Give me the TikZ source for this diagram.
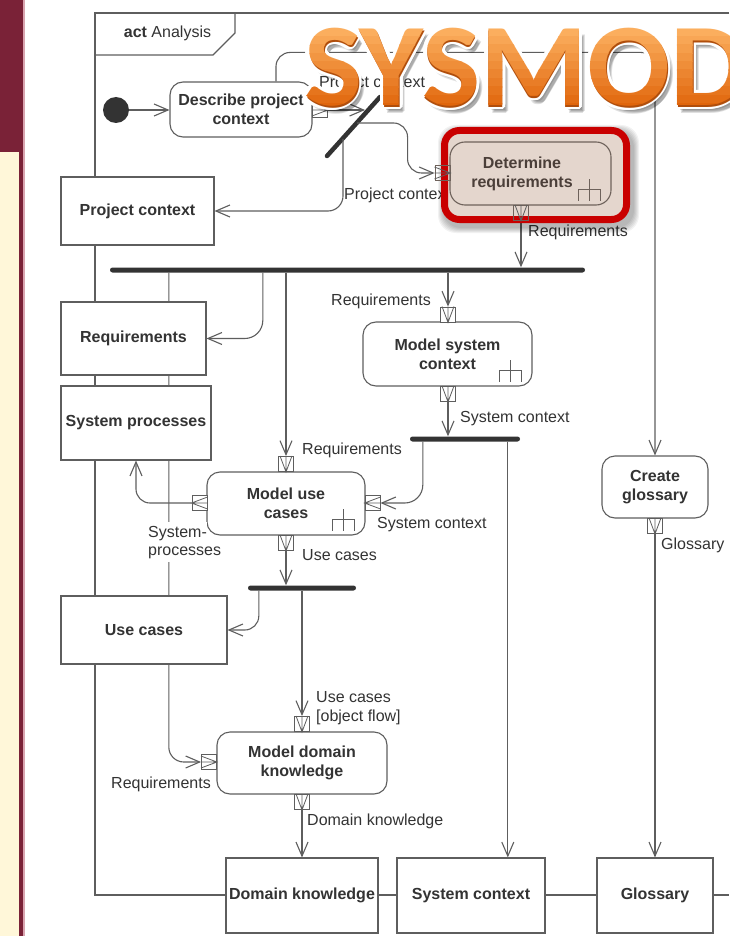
\documentclass[tikz,border=0pt]{standalone}
\usepackage{fontspec}
\setmainfont{Liberation Sans}
\newfontfamily\sysfont{Carlito}[FakeStretch=1.04]
\usetikzlibrary{arrows.meta,calc}

\definecolor{maroon}{HTML}{7A2237}
\definecolor{cream}{HTML}{FFF7D9}
\definecolor{pinkedge}{HTML}{D9A4AF}
\definecolor{ln}{HTML}{5E5E5E}
\definecolor{txt}{HTML}{333333}
\definecolor{barc}{HTML}{333333}
\definecolor{hlred}{HTML}{C90000}
\definecolor{hlfill}{HTML}{E4D6CD}
\definecolor{hltxt}{HTML}{4B3F39}
\definecolor{hlbord}{HTML}{6E625B}
\definecolor{sysTop}{HTML}{FBAE5E}
\definecolor{sysBot}{HTML}{E0640A}
\definecolor{sysEdge}{HTML}{B04E0C}

\pgfdeclarelayer{hl}
\pgfdeclarelayer{top}
\pgfsetlayers{main,hl,top}

\newcommand\dfont{\fontsize{16pt}{19pt}\selectfont}

\tikzset{
  lbl/.style={font=\dfont, text=txt, inner sep=0pt},
  objbox/.style={draw=ln, fill=white, line width=1.1pt, font=\dfont\bfseries, text=txt, align=center, inner sep=0pt},
  actbox/.style={objbox, rounded corners=13pt},
  pinbox/.style={draw=ln, fill=white, line width=0.9pt, minimum width=15pt, minimum height=15pt, inner sep=0pt},
  pinmark/.style={draw=ln, line width=0.8pt},
  flow/.style={draw=ln, line width=1.1pt, -{Straight Barb[length=14pt,width=12pt]}},
  forkbar/.style={fill=barc, draw=none, inner sep=0pt, minimum height=5pt, rounded corners=2.5pt},
  frameln/.style={draw=ln, line width=1.1pt},
  rakeln/.style={draw=ln, line width=0.9pt},
  sysm/.style={anchor=base west, inner sep=0pt, font=\sysfont\bfseries\fontsize{118pt}{118pt}\selectfont},
}

% direction marks inside pins
\newcommand\pinDown[1]{\draw[pinmark] ($(#1.north west)+(2,0)$) -- (#1.south) -- ($(#1.north east)+(-2,0)$) (#1.north) -- (#1.south);}
\newcommand\pinLeft[1]{\draw[pinmark] ($(#1.north east)+(0,2)$) -- (#1.west) -- ($(#1.south east)+(0,-2)$) (#1.east) -- (#1.west);}
\newcommand\pinRight[1]{\draw[pinmark] ($(#1.north west)+(0,2)$) -- (#1.east) -- ($(#1.south west)+(0,-2)$) (#1.west) -- (#1.east);}
% call-behaviour rake in the lower right corner of an action
\newcommand\rakeMark[2][ln]{\draw[rakeln, draw=#1] ($(#2.south east)+(-22,-5)$) -- ++(0,-22) ($(#2.south east)+(-33,-5)$) -- ++(0,-11) -- ++(22,0) -- ++(0,11);}

\begin{document}
\begin{tikzpicture}[x=1pt,y=-1pt]
\useasboundingbox (0,0) rectangle (729,936);
\fill[white] (0,0) rectangle (729,936);

% slide side strip
\fill[maroon] (0,0) rectangle (23,936);
\fill[cream] (0,152) rectangle (19,936);
\fill[pinkedge] (23,0) rectangle (24.5,936);

% ---------- actions ----------
\node[circle, fill=barc, minimum size=26pt, inner sep=0pt] (init) at (116,110) {};
\node[actbox, minimum width=142pt, minimum height=55pt] (describe) at (241,109.5) {Describe project\\context};
\node[actbox, minimum width=169pt, minimum height=64pt] (msc) at (447.5,354) {Model system\\context};
\node[actbox, minimum width=158pt, minimum height=63pt] (muc) at (286,503.5) {Model use\\cases};
\node[actbox, minimum width=170pt, minimum height=62pt] (mdk) at (302,763) {Model domain\\knowledge};
\node[actbox, minimum width=106pt, minimum height=62pt] (cg) at (655,487) {Create\\glossary};
\rakeMark{msc}
\rakeMark{muc}

% ---------- pins ----------
\node[pinbox] (pDescOut) at (320,110) {};
\node[pinbox] (pMscIn) at (448,314.5) {};
\node[pinbox] (pMscOut) at (448,394) {};
\node[pinbox] (pMucTop) at (286,464) {};
\node[pinbox] (pMucLeft) at (199.5,503) {};
\node[pinbox] (pMucRight) at (372.5,503) {};
\node[pinbox] (pMucOut) at (286,543) {};
\node[pinbox] (pMdkTop) at (302,724) {};
\node[pinbox] (pMdkLeft) at (209,762) {};
\node[pinbox] (pMdkOut) at (302,802) {};
\node[pinbox] (pCgOut) at (655,526) {};
\pinRight{pDescOut}
\pinDown{pMscIn} \pinDown{pMscOut}
\pinDown{pMucTop} \pinLeft{pMucLeft} \pinLeft{pMucRight} \pinDown{pMucOut}
\pinDown{pMdkTop} \pinRight{pMdkLeft} \pinDown{pMdkOut}
\pinDown{pCgOut}

% ---------- highlighted action ----------
\begin{pgfonlayer}{hl}
  \foreach \g in {1,...,6}
    \fill[black, opacity=0.05, rounded corners=18pt] (444-\g,131-\g) rectangle (633+\g,227+\g);
  \draw[line width=7pt, hlred, fill=hlfill, rounded corners=15pt] (444.5,130.5) rectangle (626.5,219.5);
  \node[actbox, draw=hlbord, fill=hlfill, minimum width=161pt, minimum height=63pt, rounded corners=15pt] (detreq) at (530.5,173.5) {};
  \node[lbl, font=\dfont\bfseries, text=hltxt, align=center] (detreqText) at ([xshift=-8.5pt]detreq.center) {Determine\\requirements};
  \rakeMark[hlbord]{detreq}
  \node[pinbox, fill=none, draw=hlbord] (pDrIn) at (442.5,173) {};
  \node[pinbox, fill=none, draw=hlbord] (pDrOut) at (521,213) {};
  \pinRight{pDrIn}
  \pinDown{pDrOut}
\end{pgfonlayer}

% ---------- fork bars ----------
\node[forkbar, minimum width=475pt] (bar1) at (347.5,270) {};
\node[forkbar, minimum width=110pt] (bar2) at (465,439) {};
\node[forkbar, minimum width=108pt] (bar3) at (302,588) {};
\coordinate (dbS) at (327,156);
\coordinate (dbN) at (380,97);
\draw[line width=4.5pt, barc, line cap=round] (dbS) -- (dbN);
\coordinate (dbIn) at (365,110);
\coordinate (dbA) at (357,123);
\coordinate (dbB) at (343,139);

% ---------- activity frame ----------
\coordinate (frTL) at (95,13);
\coordinate (frTR) at (729,13);
\coordinate (frBL) at (95,895);
\coordinate (frBR) at (729,895);
\draw[frameln] (frTR) -- (frTL) -- (frBL) -- (frBR);
\draw[frameln] (95,55) -- (213,55) -- (235,33) -- (235,13);
\node[lbl, anchor=base] (hdr) at (167.5,37.5) {\textbf{act} Analysis};

% requirements flow running behind the object nodes
\draw[flow, rounded corners=15pt] ($(bar1.south west)+(59,0)$) |- (pMdkLeft.west);
\node[lbl, fill=white, inner ysep=4pt, anchor=base west] (lSys1) at (148,537) {System-};
\node[lbl, fill=white, inner ysep=4pt, anchor=base west] (lSys2) at (148,555) {processes};

% ---------- object nodes ----------
\node[objbox, minimum width=153pt, minimum height=68pt] (pcbox) at (137.5,211) {Project context};
\node[objbox, minimum width=145pt, minimum height=73pt] (reqbox) at (133.5,338.5) {Requirements};
\node[objbox, minimum width=150pt, minimum height=74pt] (spbox) at (136,423) {System processes};
\node[objbox, minimum width=166pt, minimum height=68pt] (ucbox) at (144,630) {Use cases};
\node[objbox, minimum width=152pt, minimum height=75pt] (dkbox) at (302,895.5) {Domain knowledge};
\node[objbox, minimum width=148pt, minimum height=75pt] (scbox) at (471,895.5) {System context};
\node[objbox, minimum width=116pt, minimum height=75pt] (glbox) at (655,895.5) {Glossary};

% ---------- flows ----------
\draw[flow] (init) -- (init -| describe.west);
\draw[flow] (pDescOut.east) -- (dbIn);
\draw[flow, rounded corners=14pt] (dbA) -| ([xshift=-27pt]pDrIn.west) -- (pDrIn.west);
\draw[flow, rounded corners=15pt] (dbB) |- (pcbox.east);
\draw[flow, rounded corners=14pt] ([xshift=35pt]describe.north) -- ++(0,-29) -| (cg.north);
\draw[flow] (pDrOut.south) -- (pDrOut.south |- bar1.north);
\draw[flow, rounded corners=18pt] ($(bar1.south west)+(153,0)$) |- (reqbox.east);
\draw[flow] (pMucTop.north |- bar1.south) -- (pMucTop.north);
\draw[flow] (pMscIn.north |- bar1.south) -- (pMscIn.north);
\draw[flow] (pMscOut.south) -- (pMscOut.south |- bar2.north);
\draw[flow, rounded corners=18pt] ($(bar2.south west)+(13,0)$) |- (pMucRight.east);
\coordinate (f2b) at ($(bar2.south west)+(98,0)$);
\draw[flow] (f2b) -- (f2b |- scbox.north);
\draw[flow, rounded corners=14pt] (pMucLeft.west) -| (spbox.south);
\draw[flow] (pMucOut.south) -- (pMucOut.south |- bar3.north);
\draw[flow, rounded corners=14pt] ($(bar3.south west)+(11,0)$) |- (ucbox.east);
\draw[flow] (pMdkTop.north |- bar3.south) -- (pMdkTop.north);
\draw[flow] (pMdkOut.south) -- (dkbox.north);
\draw[flow] (pCgOut.south) -- (glbox.north);

% ---------- flow labels ----------
\node[lbl, anchor=base west] (l1) at (319,88) {Project context};
\node[lbl, anchor=base west] (l2) at (344,200) {Project context};
\node[lbl, anchor=base west] (l3) at (528,236.5) {Requirements};
\node[lbl, anchor=base east] (l4) at (431,305.5) {Requirements};
\node[lbl, anchor=base west] (l5) at (302,454.5) {Requirements};
\node[lbl, anchor=base west] (l6) at (460,422.5) {System context};
\node[lbl, anchor=base west] (l7) at (377,528.5) {System context};
\node[lbl, anchor=base west] (l8) at (661,549) {Glossary};
\node[lbl, anchor=base west] (l9) at (302,560) {Use cases};
\node[lbl, anchor=base west] (l10) at (316,702.5) {Use cases};
\node[lbl, anchor=base west] (l11) at (316,721.5) {[object flow]};
\node[lbl, anchor=base east] (l12) at (211,788) {Requirements};
\node[lbl, anchor=base west] (l13) at (307,825) {Domain knowledge};

% ---------- title word ----------
\begin{pgfonlayer}{top}
  \coordinate (sysO) at (304,106);
  \foreach \dx/\dy in {3/5,5/7,4/8,6/6}
    \node[sysm, text=black, opacity=0.12] at ($(sysO)+(\dx,\dy)$) {SYSMOD};
  \foreach \a in {0,22.5,...,337.5}
    \node[sysm, text=white] at ($(sysO)+(\a:3.5)$) {SYSMOD};
  \node[sysm, text=sysEdge] at ($(sysO)+(0.8,1.2)$) {SYSMOD};
  \foreach \i in {0,...,9} {
    \pgfmathtruncatemacro\pct{100-\i*11}
    \colorlet{bandc}{sysTop!\pct!sysBot}
    \begin{scope}
      \clip (290,28+\i*8.4) rectangle (740,36.7+\i*8.4);
      \node[sysm, text=bandc] at (sysO) {SYSMOD};
    \end{scope}
  }
\end{pgfonlayer}
\end{tikzpicture}
\end{document}
